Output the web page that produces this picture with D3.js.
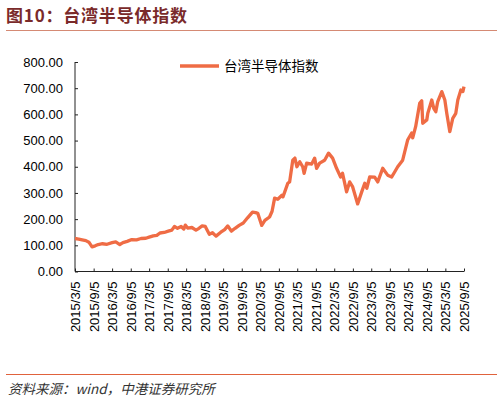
<!DOCTYPE html>
<html>
<head>
<meta charset="utf-8">
<script src="https://cdn.jsdelivr.net/npm/d3@7"></script>
<style>
  body { margin: 0; background: #fff; }
  svg { font-family: "Liberation Sans", Arial, sans-serif; }
</style>
</head>
<body>
<div id="chart"></div>
<script>
// Data
const seriesName = "台湾半导体指数";
const dates = [
  "2015-03-05","2015-04-10","2015-05-15","2015-06-20","2015-07-20","2015-08-20","2015-09-20","2015-10-20",
  "2015-12-01","2016-01-15","2016-03-05","2016-04-10","2016-05-20","2016-06-20","2016-08-01","2016-09-15",
  "2016-11-01","2016-12-15","2017-02-01","2017-03-05","2017-04-15","2017-05-20","2017-06-20","2017-08-01",
  "2017-09-10","2017-10-15","2017-11-10","2017-12-10","2018-01-15","2018-02-10","2018-02-25","2018-03-20",
  "2018-05-01","2018-06-10","2018-07-10","2018-08-10","2018-09-10","2018-10-20","2018-11-20","2018-12-25",
  "2019-02-10","2019-03-20","2019-04-20","2019-05-25","2019-07-01","2019-08-10","2019-09-20","2019-11-01",
  "2019-12-20","2020-01-20","2020-02-10","2020-03-20","2020-04-20","2020-06-05","2020-06-30","2020-07-25",
  "2020-08-25","2020-10-05","2020-10-15","2020-11-02","2020-12-02","2020-12-20","2021-01-20","2021-02-10",
  "2021-03-02","2021-03-30","2021-04-28","2021-05-12","2021-06-06","2021-07-25","2021-08-24","2021-09-12",
  "2021-10-12","2021-11-30","2022-01-08","2022-02-17","2022-03-28","2022-05-07","2022-05-26","2022-07-05",
  "2022-08-04","2022-09-03","2022-10-22","2022-12-01","2022-12-31","2023-01-20","2023-02-18","2023-04-08",
  "2023-05-08","2023-06-26","2023-08-14","2023-09-23","2023-10-22","2023-11-21","2024-01-09","2024-02-27",
  "2024-04-07","2024-04-17","2024-05-16","2024-06-25","2024-07-15","2024-07-25","2024-09-03","2024-09-13",
  "2024-10-22","2024-11-11","2024-12-01","2024-12-20","2025-01-29","2025-02-28","2025-03-19","2025-04-18",
  "2025-05-17","2025-06-16","2025-07-06","2025-08-05","2025-08-25","2025-09-05"
];
const values = [
  126,124,121,118,112,94,98,103,
  106,104,110,113,103,110,115,122,
  121,126,127,131,136,138,147,149,
  154,158,172,165,172,162,177,166,
  168,158,165,174,172,142,148,135,
  150,160,174,154,165,176,185,205,
  227,225,222,176,195,208,230,280,
  276,291,285,304,337,342,425,433,
  400,419,400,375,414,410,433,394,
  414,425,452,433,394,361,375,304,
  342,323,258,304,337,318,361,360,
  342,394,368,361,380,400,425,502,
  529,510,553,642,652,566,579,604,
  655,623,610,649,687,655,604,534,
  585,604,655,693,687,706
];
const yTicks = [0, 100, 200, 300, 400, 500, 600, 700, 800];
const xStart = "2015-03-05", xEnd = "2025-09-05";

const W = 503, H = 403;
const parse = d3.timeParse("%Y-%m-%d");
const data = dates.map((d, i) => ({ date: parse(d), value: values[i] }));

const svg = d3.select("#chart").append("svg")
    .attr("width", W)
    .attr("height", H);

// Title and rules
svg.append("text")
    .attr("x", 6).attr("y", 22)
    .attr("fill", "#7a2a2a")
    .attr("font-size", 17)
    .attr("font-weight", "bold")
    .attr("letter-spacing", 0.8)
    .attr("font-family", "'Noto Sans CJK SC', sans-serif")
    .text("图10：台湾半导体指数");
svg.append("line")
    .attr("x1", 6).attr("x2", 497).attr("y1", 30.5).attr("y2", 30.5)
    .attr("stroke", "#d58a74").attr("stroke-width", 1.2);
svg.append("line")
    .attr("x1", 6).attr("x2", 497).attr("y1", 374.5).attr("y2", 374.5)
    .attr("stroke", "#e0623c").attr("stroke-width", 1.2);
svg.append("text")
    .attr("x", 8).attr("y", 394)
    .attr("fill", "#333")
    .attr("font-size", 13.5)
    .attr("font-style", "italic")
    .attr("font-family", "'Noto Sans CJK SC', sans-serif")
    .text("资料来源：wind，中港证券研究所");

// Scales
const x = d3.scaleTime().domain([parse(xStart), parse(xEnd)]).range([75, 464]);
const y = d3.scaleLinear().domain([0, 800]).range([271.5, 62]);

// Half-year ticks on the 5th of March and September
const xTicks = [];
for (let yr = 2015; yr <= 2025; yr++) {
  xTicks.push(new Date(yr, 2, 5));
  xTicks.push(new Date(yr, 8, 5));
}

// Y axis
const yAxis = svg.append("g")
    .attr("transform", "translate(75,0)")
    .call(d3.axisLeft(y).tickValues(yTicks).tickFormat(d3.format(".2f")).tickSize(-3).tickPadding(12));
yAxis.select(".domain").attr("d", `M0,${y(800)}V${y(0)}`);
yAxis.selectAll("text").attr("font-size", 13).attr("fill", "#000")
    .attr("font-family", "'Liberation Sans', Arial, sans-serif");

// X axis
const xAxis = svg.append("g")
    .attr("transform", `translate(0,${y(0)})`)
    .call(d3.axisBottom(x).tickValues(xTicks).tickFormat(d3.timeFormat("%Y/%-m/%-d")).tickSize(-3));
xAxis.select(".domain").attr("d", `M75,0H464`);
xAxis.selectAll("text")
    .attr("font-size", 13).attr("fill", "#000")
    .attr("font-family", "'Liberation Sans', Arial, sans-serif")
    .attr("transform", "rotate(-90)")
    .attr("text-anchor", "end")
    .attr("x", -10).attr("y", 0).attr("dy", "0.35em");
svg.selectAll(".domain, .tick line").attr("stroke", "#222");

// Line
svg.append("path")
    .datum(data)
    .attr("fill", "none")
    .attr("stroke", "#ef6c45")
    .attr("stroke-width", 3.3)
    .attr("stroke-linejoin", "round")
    .attr("d", d3.line().x(d => x(d.date)).y(d => y(d.value)));

// Legend
svg.append("line")
    .attr("x1", 180).attr("x2", 219).attr("y1", 66).attr("y2", 66)
    .attr("stroke", "#ef6c45").attr("stroke-width", 3.5);
svg.append("text")
    .attr("x", 224).attr("y", 66).attr("dy", "0.35em")
    .attr("font-size", 13.5)
    .attr("font-family", "'Noto Sans CJK SC', sans-serif")
    .attr("fill", "#000")
    .text(seriesName);
</script>
</body>
</html>
